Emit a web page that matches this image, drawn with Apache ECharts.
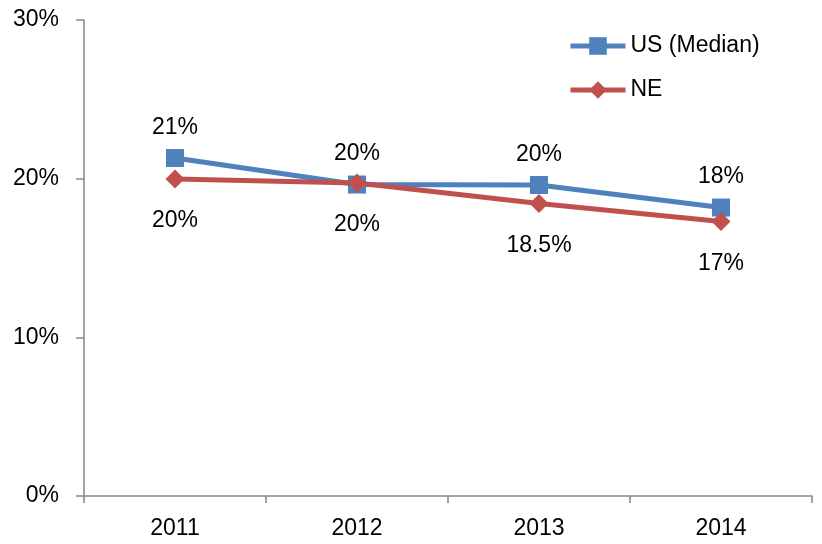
<!DOCTYPE html>
<html>
<head>
<meta charset="utf-8">
<script src="https://cdn.jsdelivr.net/npm/echarts@6/dist/echarts.min.js"></script>
<style>
html,body{margin:0;padding:0;background:#fff;}
#chart{width:822px;height:544px;}
</style>
</head>
<body>
<div id="chart"></div>
<script>
var years = ['2011', '2012', '2013', '2014'];
var usMedian = [21.3, 19.63, 19.6, 18.18];
var ne = [19.98, 19.73, 18.43, 17.3];
var usLabels = ['21%', '20%', '20%', '18%'];
var neLabels = ['20%', '20%', '18.5%', '17%'];
var yTicks = [0, 10, 20, 30];

var FONT = 'Liberation Sans';
var FS = 23;
var chart = echarts.init(document.getElementById('chart'), null, {renderer: 'canvas'});
chart.setOption({
  animation: false,
  backgroundColor: '#ffffff',
  textStyle: {fontFamily: FONT, color: '#000'},
  grid: {left: 84, right: 10, top: 20, bottom: 48, containLabel: false},
  legend: {
    orient: 'vertical',
    left: 568,
    top: 34,
    padding: 0,
    itemWidth: 55,
    itemHeight: 22,
    itemGap: 20,
    lineStyle: {width: 5},
    textStyle: {fontFamily: FONT, fontSize: FS, color: '#000', lineHeight: 24, padding: [0, 0, 0, 0]},
    data: ['US (Median)', 'NE']
  },
  xAxis: {
    type: 'category',
    data: years,
    boundaryGap: true,
    axisLine: {lineStyle: {color: '#868686', width: 1.5}},
    axisTick: {show: true, length: 7, lineStyle: {color: '#868686', width: 1.5}},
    axisLabel: {fontFamily: FONT, fontSize: FS, color: '#000', margin: 21}
  },
  yAxis: {
    type: 'value',
    min: yTicks[0],
    max: yTicks[yTicks.length - 1],
    interval: 10,
    splitLine: {show: false},
    axisLine: {show: true, lineStyle: {color: '#868686', width: 1.5}},
    axisTick: {show: true, length: 8, lineStyle: {color: '#868686', width: 1.5}},
    axisLabel: {fontFamily: FONT, fontSize: FS, color: '#000', margin: 25, formatter: '{value}%'}
  },
  series: [
    {
      name: 'US (Median)',
      type: 'line',
      data: usMedian,
      symbol: 'rect',
      symbolSize: 18,
      color: '#4F81BD',
      lineStyle: {width: 5, color: '#4F81BD'},
      itemStyle: {color: '#4F81BD'},
      label: {
        show: true, position: 'top', distance: 10,
        fontFamily: FONT, fontSize: FS, color: '#000',
        formatter: function (p) { return usLabels[p.dataIndex]; }
      },
      z: 2
    },
    {
      name: 'NE',
      type: 'line',
      data: ne,
      symbol: 'diamond',
      symbolSize: 19,
      color: '#C0504D',
      lineStyle: {width: 5, color: '#C0504D'},
      itemStyle: {color: '#C0504D'},
      label: {
        show: true, position: 'bottom', distance: 21,
        fontFamily: FONT, fontSize: FS, color: '#000',
        formatter: function (p) { return neLabels[p.dataIndex]; }
      },
      z: 3
    }
  ]
});
</script>
</body>
</html>
